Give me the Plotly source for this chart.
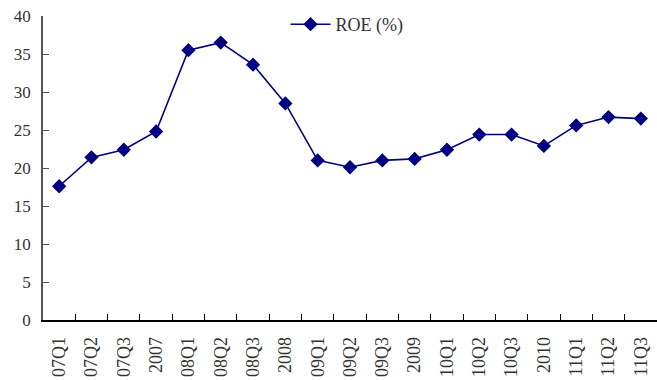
import plotly.graph_objects as go

# Quarterly and annual return on equity
periods = ["07Q1", "07Q2", "07Q3", "2007", "08Q1", "08Q2", "08Q3", "2008",
           "09Q1", "09Q2", "09Q3", "2009", "10Q1", "10Q2", "10Q3", "2010",
           "11Q1", "11Q2", "11Q3"]
roe = [17.6, 21.4, 22.4, 24.8, 35.5, 36.5, 33.6, 28.5,
       21.0, 20.1, 21.0, 21.2, 22.4, 24.4, 24.4, 22.9,
       25.6, 26.7, 26.5]
y_ticks = [0, 5, 10, 15, 20, 25, 30, 35, 40]

navy = "#000080"
text_color = "#333333"
serif = "Liberation Serif, Times New Roman, serif"

fig = go.Figure(
    go.Scatter(
        x=periods,
        y=roe,
        mode="lines+markers",
        name="ROE (%)",
        line=dict(color=navy, width=1.6),
        marker=dict(symbol="diamond", size=11, color=navy),
    )
)

fig.update_layout(
    width=657,
    height=380,
    margin=dict(l=43, r=0, t=16, b=60),
    paper_bgcolor="white",
    plot_bgcolor="white",
    font=dict(family=serif, color=text_color, size=17),
    showlegend=True,
    legend=dict(
        x=0.395, y=0.972, xanchor="left", yanchor="middle",
        bgcolor="rgba(0,0,0,0)", font=dict(size=18, family=serif, color=text_color),
        itemwidth=40,
    ),
)

fig.update_xaxes(
    type="category",
    range=[-0.5, len(periods) - 0.5],
    showline=True, linecolor="black", linewidth=1.5,
    showgrid=False, zeroline=False,
    ticks="inside", ticklen=6, tickcolor="black", tickwidth=1,
    tickson="boundaries",
    tickangle=-90,
    tickfont=dict(size=18, family=serif, color=text_color),
    ticklabelstandoff=8,
)

fig.update_yaxes(
    range=[0, 40],
    tickvals=y_ticks,
    showline=True, linecolor="#555555", linewidth=1.5,
    showgrid=False, zeroline=False,
    ticks="inside", ticklen=6, tickcolor="#555555", tickwidth=1,
    tickfont=dict(size=17, family=serif, color=text_color),
    ticklabelstandoff=7,
)

fig.write_html("out.html")
